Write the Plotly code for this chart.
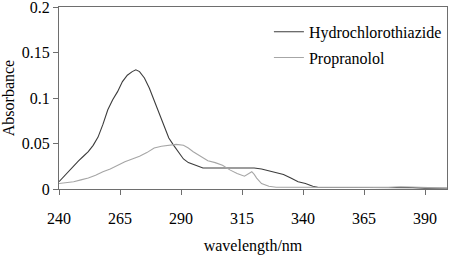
import plotly.graph_objects as go

# Hydrochlorothiazide spectrum
hct_wl = [240, 242, 244, 246, 248, 250, 252, 254, 256, 258, 260, 262, 264, 266, 268, 270, 271.5,
          273, 275, 277, 279, 281, 283, 285, 287, 289, 291, 293, 295, 297, 299, 305, 310, 315, 320,
          323, 326, 329, 332, 335, 338, 341, 344, 346, 350, 355, 360, 365, 370, 375, 380, 385, 390, 395, 399]
hct_abs = [0.008, 0.014, 0.019, 0.025, 0.031, 0.036, 0.041, 0.048, 0.057, 0.071, 0.087, 0.098, 0.107,
           0.118, 0.125, 0.129, 0.131, 0.129, 0.122, 0.111, 0.097, 0.082, 0.068, 0.056, 0.048, 0.040,
           0.033, 0.029, 0.027, 0.025, 0.023, 0.023, 0.023, 0.023, 0.023, 0.022, 0.020, 0.018, 0.016,
           0.012, 0.008, 0.006, 0.003, 0.002, 0.002, 0.0015, 0.002, 0.0015, 0.002, 0.0015, 0.002,
           0.0015, 0.001, 0.0008, 0.0008]

# Propranolol spectrum
pro_wl = [240, 243, 246, 249, 252, 255, 258, 261, 264, 267, 270, 273, 276, 279, 282, 285, 288, 291,
          293, 295, 298, 301, 304, 307, 310, 313, 316, 318, 319, 320, 321, 323, 326, 329, 335, 340,
          345, 350, 355, 360, 365, 370, 375, 380, 385, 390, 395, 399]
pro_abs = [0.006, 0.007, 0.008, 0.010, 0.012, 0.015, 0.019, 0.022, 0.026, 0.030, 0.033, 0.036, 0.040,
           0.045, 0.047, 0.048, 0.049, 0.048, 0.045, 0.041, 0.036, 0.031, 0.029, 0.026, 0.021, 0.017,
           0.014, 0.017, 0.019, 0.016, 0.012, 0.006, 0.003, 0.002, 0.002, 0.002, 0.0015, 0.002,
           0.0018, 0.002, 0.0015, 0.002, 0.0018, 0.0025, 0.002, 0.0015, 0.001, 0.001]

x_ticks = [240, 265, 290, 315, 340, 365, 390]
y_ticks = [0, 0.05, 0.1, 0.15, 0.2]
y_tick_text = ["0", "0.05", "0.1", "0.15", "0.2"]

FONT = "Liberation Serif"
AX = "#6e6e6e"

fig = go.Figure()
fig.add_trace(go.Scatter(x=hct_wl, y=hct_abs, mode="lines", name="Hydrochlorothiazide",
                         legendgroup="a", line=dict(color="#3c3c3c", width=1.1)))
fig.add_trace(go.Scatter(x=pro_wl, y=pro_abs, mode="lines", name="Propranolol",
                         legendgroup="b", line=dict(color="#a6a6a6", width=1.1)))

fig.update_layout(
    width=450, height=255,
    margin=dict(l=59, r=3, t=7, b=66, autoexpand=False),
    paper_bgcolor="white", plot_bgcolor="white",
    font=dict(family=FONT, size=16, color="black"),
    showlegend=True,
    legend=dict(x=0.541, y=0.957, xanchor="left", yanchor="top",
                bgcolor="rgba(0,0,0,0)", font=dict(family=FONT, size=16),
                tracegroupgap=2, traceorder="grouped"),
    xaxis=dict(range=[240, 399], tickvals=x_ticks, ticks="outside", ticklen=5,
               tickcolor=AX, showline=True, linecolor=AX, linewidth=1, mirror=True,
               showgrid=False, zeroline=False, ticklabelstandoff=10, automargin=False,
               ticklabeloverflow="allow",
               tickfont=dict(family=FONT, size=16),
               title=dict(text="wavelength/nm", font=dict(family=FONT, size=16))),
    yaxis=dict(range=[0, 0.2], tickvals=y_ticks, ticktext=y_tick_text, ticks="outside",
               ticklen=5, tickcolor=AX, showline=True, linecolor=AX, linewidth=1,
               mirror=True, showgrid=False, zeroline=False, automargin=False,
               ticklabeloverflow="allow",
               tickfont=dict(family=FONT, size=16),
               title=dict(text="Absorbance", font=dict(family=FONT, size=16))),
)

fig.write_html("out.html", config={"displayModeBar": False},
               post_script="document.body.style.margin='0';document.body.style.padding='0';")
